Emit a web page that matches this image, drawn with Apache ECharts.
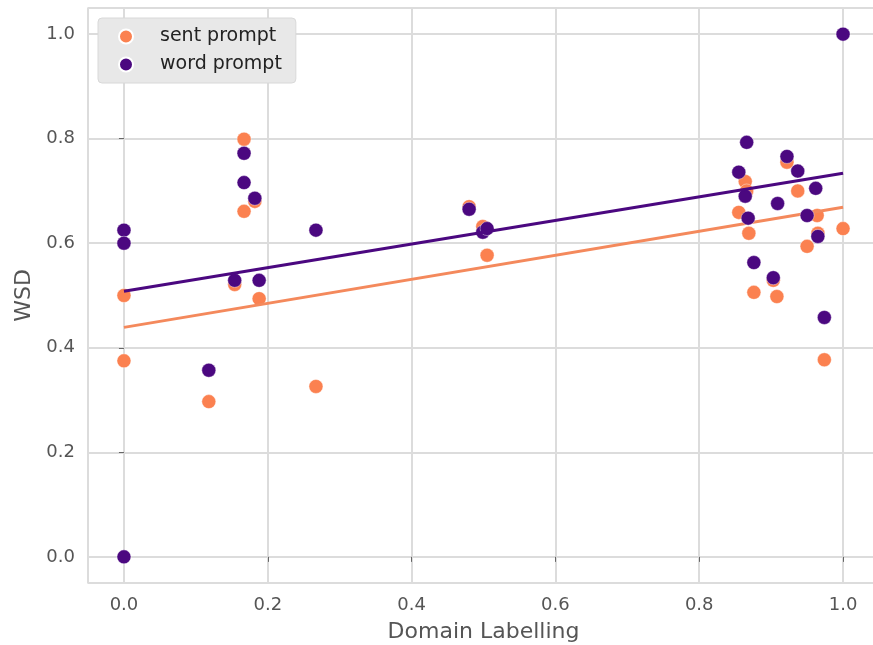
<!DOCTYPE html>
<html>
<head>
<meta charset="utf-8">
<script src="https://cdn.jsdelivr.net/npm/echarts@6/dist/echarts.min.js"></script>
<style>
html, body { margin: 0; padding: 0; background: #fff; overflow: hidden; }
#chart { width: 873px; height: 645px; }
</style>
</head>
<body>
<div id="chart"></div>
<script>
// values
var sentX = [0, 0, 0.118, 0.154, 0.167, 0.167, 0.182, 0.188, 0.267, 0.48, 0.499, 0.505,
    0.855, 0.864, 0.866, 0.869, 0.876, 0.903, 0.908, 0.922, 0.937, 0.95, 0.964, 0.965, 0.974, 1.0];
var sentY = [0.5, 0.375, 0.297, 0.521, 0.799, 0.661, 0.68, 0.494, 0.326, 0.67, 0.632, 0.577,
    0.659, 0.718, 0.7, 0.619, 0.506, 0.529, 0.498, 0.755, 0.7, 0.594, 0.653, 0.619, 0.377, 0.628];
var wordX = [0, 0, 0, 0.118, 0.154, 0.167, 0.167, 0.182, 0.188, 0.267, 0.48, 0.499, 0.505,
    0.855, 0.864, 0.866, 0.868, 0.876, 0.903, 0.909, 0.922, 0.937, 0.95, 0.962, 0.965, 0.974, 1.0];
var wordY = [0, 0.625, 0.6, 0.357, 0.529, 0.772, 0.716, 0.686, 0.529, 0.625, 0.665, 0.621, 0.628,
    0.736, 0.69, 0.793, 0.648, 0.563, 0.534, 0.676, 0.766, 0.738, 0.653, 0.705, 0.613, 0.458, 1.0];
// fitted lines, end points at x = 0 and x = 1
var fitX = [0, 1];
var sentFit = [0.439, 0.669];
var wordFit = [0.508, 0.734];

function pairs(xs, ys) {
    return xs.map(function (x, i) { return [x, ys[i]]; });
}

var orange = '#fb8150';
var purple = '#4b0880';
var grey = '#555';

var chart = echarts.init(document.getElementById('chart'));
var axisCommon = {
    type: 'value',
    min: -0.05,
    max: 1.05,
    axisLine: { show: true, lineStyle: { color: '#dcdcdc', width: 1.5 } },
    axisTick: { show: true, length: 5, lineStyle: { color: '#666' } },
    splitLine: { show: true, lineStyle: { color: '#dcdcdc', width: 2 } },
    axisLabel: {
        color: grey, fontSize: 18, fontFamily: 'DejaVu Sans', margin: 13,
        showMinLabel: false, showMaxLabel: false,
        formatter: function (v) { return v.toFixed(1); }
    },
    nameLocation: 'middle',
    nameTextStyle: { color: grey, fontSize: 22, fontFamily: 'DejaVu Sans' }
};

var option = {
    animation: false,
    grid: {
        left: 88, top: 8, width: 791, bottom: 62,
        outerBoundsMode: 'none',
        show: true, borderColor: '#dcdcdc', borderWidth: 1.5
    },
    legend: {
        left: 98, top: 18,
        orient: 'vertical',
        data: ['sent prompt', 'word prompt'],
        icon: 'circle',
        itemWidth: 14, itemHeight: 14, itemGap: 9,
        padding: [9, 14, 9, 20],
        backgroundColor: '#e8e8e8',
        borderColor: '#d8d8d8', borderWidth: 1, borderRadius: 4,
        textStyle: { color: '#222', fontSize: 19, fontFamily: 'DejaVu Sans', padding: [0, 0, 0, 22] }
    },
    xAxis: Object.assign({}, axisCommon, { name: 'Domain Labelling', nameGap: 38 }),
    yAxis: Object.assign({}, axisCommon, { name: 'WSD', nameGap: 50 }),
    series: [
        {
            name: 'sent prompt', type: 'scatter', symbolSize: 14,
            itemStyle: { color: orange, opacity: 1, borderColor: '#fff', borderWidth: 0.4 },
            data: pairs(sentX, sentY), z: 2
        },
        {
            type: 'line', data: pairs(fitX, sentFit), symbol: 'none',
            lineStyle: { color: '#f4895c', width: 3 }, z: 3, silent: true
        },
        {
            name: 'word prompt', type: 'scatter', symbolSize: 14,
            itemStyle: { color: purple, opacity: 1, borderColor: '#fff', borderWidth: 0.4 },
            data: pairs(wordX, wordY), z: 4
        },
        {
            type: 'line', data: pairs(fitX, wordFit), symbol: 'none',
            lineStyle: { color: purple, width: 3 }, z: 5, silent: true
        }
    ]
};
chart.setOption(option);
window.addEventListener('resize', function () { chart.resize(); });
</script>
</body>
</html>
